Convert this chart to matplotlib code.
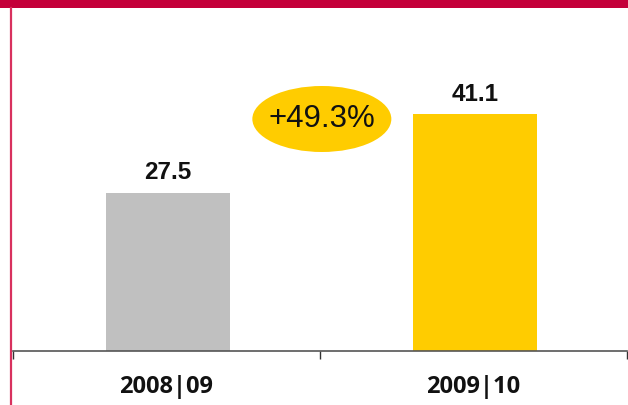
import matplotlib
matplotlib.use("Agg")
import matplotlib.pyplot as plt
from matplotlib.patches import Ellipse, Rectangle
from matplotlib.lines import Line2D

# data
periods = ["2008|09", "2009|10"]
values = [27.5, 41.1]
bar_colors = ["#c0c0c0", "#ffcc00"]
growth_label = "+49.3%"

W, H = 628, 405
fig = plt.figure(figsize=(W / 100, H / 100), dpi=100)
fig.patch.set_facecolor("white")

# red band on top and thin red line on left
fig.add_artist(Rectangle((0, 1 - 8 / H), 1, 8 / H, transform=fig.transFigure,
                         facecolor="#c4003a", edgecolor="none"))
fig.add_artist(Line2D([10.5 / W, 10.5 / W], [0, 1 - 8 / H], transform=fig.transFigure,
                      color="#d8315e", lw=1.6))

# axes: baseline at y=351 px, x span 13..627 px
px_per_unit = 5.76
ax = fig.add_axes([13 / W, (H - 351) / H, 614 / W, 343 / H])
ax.set_xlim(-0.5, 1.5)
ax.set_ylim(0, 343 / px_per_unit)
ax.set_facecolor("none")

x = list(range(len(periods)))
ax.bar([xi + 0.005 for xi in x], values, width=0.405, color=bar_colors, zorder=2)

for xi, v in zip(x, values):
    ax.text(xi + 0.005, v + 20 / px_per_unit, f"{v:.1f}", ha="center", va="center",
            fontsize=17.5, fontweight="bold", family="Liberation Sans", color="#111111")

for xi, lab in zip(x, periods):
    ax.text(xi, -36 / px_per_unit, lab, ha="center", va="center", clip_on=False,
            fontsize=17, fontweight="bold", family="Open Sans", color="#111111")

# growth bubble
ex = 0.506
ey = (351 - 119) / px_per_unit
ax.add_patch(Ellipse((ex, ey), 139 / 307, 66 / px_per_unit, facecolor="#ffcc00",
                     edgecolor="none", zorder=3))
ax.text(ex, ey, growth_label, ha="center", va="center", fontsize=22.5,
        family="Liberation Sans", color="#111111", zorder=4)

for s in ["top", "left", "right"]:
    ax.spines[s].set_visible(False)
ax.spines["bottom"].set_color("#555555")
ax.spines["bottom"].set_linewidth(1.2)
ax.set_yticks([])
ax.set_xticks([-0.5, 0.5, 1.5])
ax.set_xticklabels([])
ax.tick_params(axis="x", direction="out", length=6, width=1, color="#333333")

fig.savefig("out.png", dpi=100)
